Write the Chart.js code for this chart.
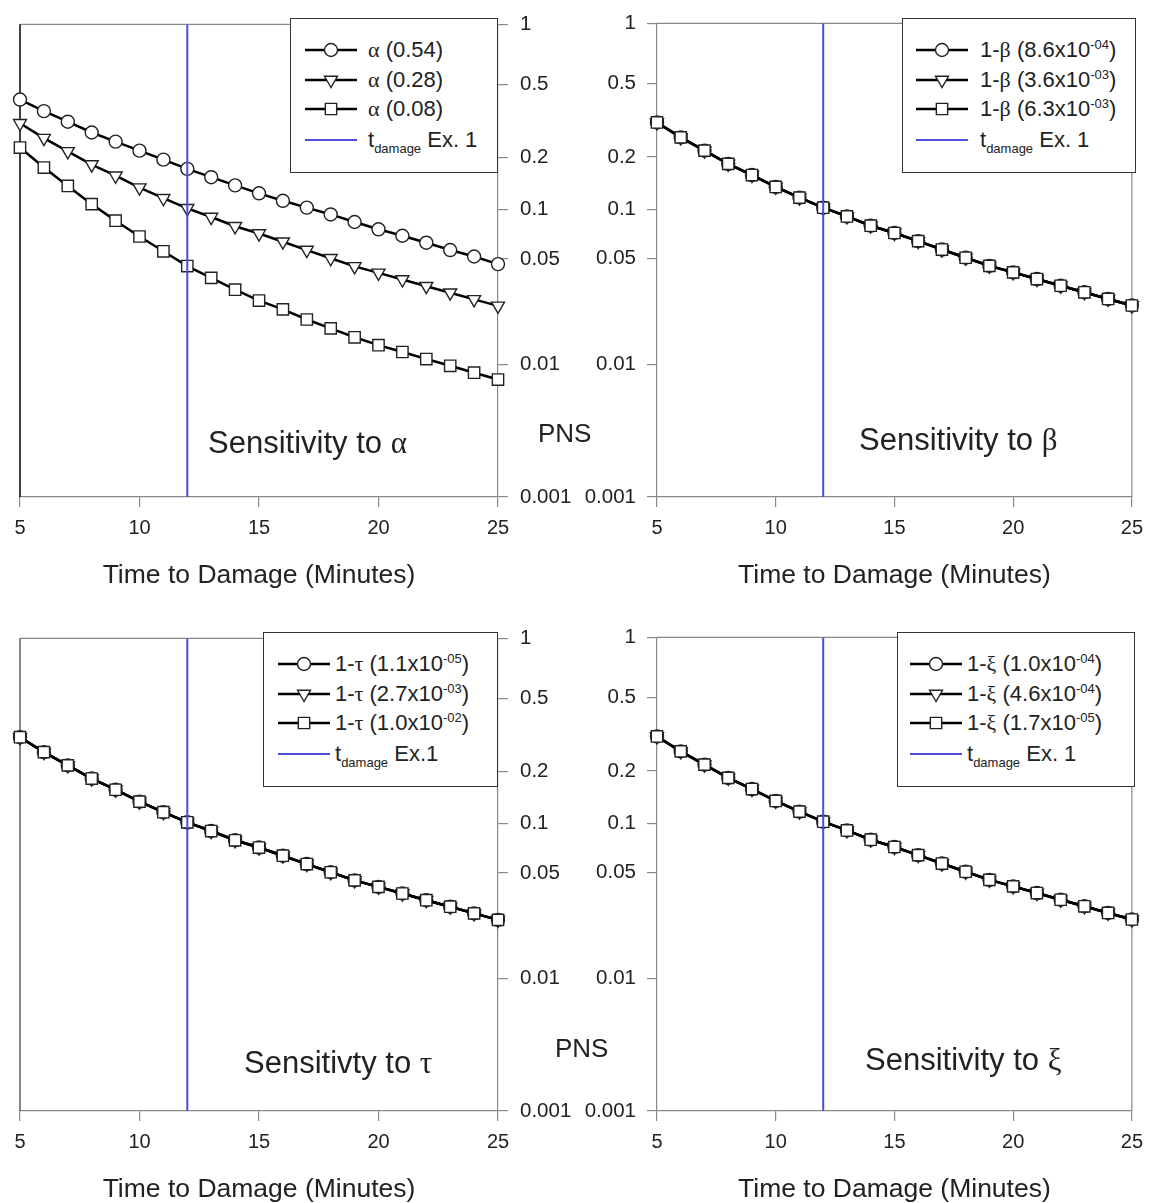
<!DOCTYPE html>
<html>
<head>
<meta charset="utf-8">
<script src="https://cdn.jsdelivr.net/npm/chart.js@4.4.1/dist/chart.umd.min.js"></script>
<style>
  body { margin: 0; width: 1152px; height: 1203px; overflow: hidden; background: #fff; position: relative;
         font-family: "Liberation Sans", Arial, sans-serif; color: #222; }
  .panel { position: absolute; width: 576px; height: 600px; }
  .legend { position: absolute; height: 155px; box-sizing: border-box; border: 1.5px solid #333; background: #fff; }
  .sample { position: absolute; }
  .ltext { position: absolute; font-size: 22px; line-height: 24px; white-space: nowrap; }
  .ltext sup { font-size: 13px; vertical-align: 8px; line-height: 0; }
  .ltext sub { font-size: 13px; vertical-align: -6px; line-height: 0; }
  .g { font-family: "Liberation Serif", "DejaVu Serif", serif; }
  .note { position: absolute; font-size: 31px; line-height: 34px; white-space: nowrap; }
  .pns { position: absolute; font-size: 26px; line-height: 30px; }
</style>
</head>
<body>
<script>
// --- data ---
const minutes = [5, 6, 7, 8, 9, 10, 11, 12, 13, 14, 15, 16, 17, 18, 19, 20, 21, 22, 23, 24, 25];
const timeTicks = [5, 10, 15, 20, 25];
const pnsTicks = [1, 0.5, 0.2, 0.1, 0.05, 0.01, 0.001];
const tDamage = 12;

const pnsAlpha054 = [0.415, 0.360, 0.316, 0.276, 0.246, 0.219, 0.195, 0.173, 0.155, 0.139, 0.125,
                     0.113, 0.103, 0.0938, 0.0845, 0.0763, 0.0697, 0.0632, 0.0569, 0.0519, 0.0465];
// nominal curve (alpha 0.28), the other panels all sit on it
const pnsNominal = [0.310, 0.257, 0.217, 0.183, 0.158, 0.135, 0.117, 0.102, 0.0905, 0.0796, 0.0719,
                    0.0641, 0.0569, 0.0506, 0.0450, 0.0409, 0.0371, 0.0336, 0.0305, 0.0276, 0.0250];
const pnsAlpha008 = [0.228, 0.176, 0.138, 0.108, 0.0860, 0.0690, 0.0559, 0.0452, 0.0380, 0.0319, 0.0271,
                     0.0237, 0.0203, 0.0177, 0.0154, 0.0136, 0.0122, 0.0109, 0.00978, 0.00874, 0.00781];

const alphaLabels = ['<span class="g">α</span> (0.54)', '<span class="g">α</span> (0.28)', '<span class="g">α</span> (0.08)'];
const betaLabels = ['1-<span class="g">β</span> (8.6x10<sup>-04</sup>)', '1-<span class="g">β</span> (3.6x10<sup>-03</sup>)', '1-<span class="g">β</span> (6.3x10<sup>-03</sup>)'];
const tauLabels = ['1-<span class="g">τ</span> (1.1x10<sup>-05</sup>)', '1-<span class="g">τ</span> (2.7x10<sup>-03</sup>)', '1-<span class="g">τ</span> (1.0x10<sup>-02</sup>)'];
const xiLabels = ['1-<span class="g">ξ</span> (1.0x10<sup>-04</sup>)', '1-<span class="g">ξ</span> (4.6x10<sup>-04</sup>)', '1-<span class="g">ξ</span> (1.7x10<sup>-05</sup>)'];

const FONT = '"Liberation Sans", Arial, sans-serif';

// PNS axis of the original is not a plain log axis, it gets squeezed towards the bottom
class PnsScale extends Chart.LogarithmicScale {
  buildTicks() {
    return pnsTicks.map(v => ({ value: v }));
  }
  pnsSpan() {
    return Math.log(1 + 0.22 * Math.log10(this.max / this.min));
  }
  getPixelForValue(v) {
    const u = Math.log10(this.max / v);
    return this.getPixelForDecimal(1 - Math.log(1 + 0.22 * u) / this.pnsSpan());
  }
  getValueForPixel(px) {
    const f = 1 - this.getDecimalForPixel(px);
    const u = (Math.exp(f * this.pnsSpan()) - 1) / 0.22;
    return this.max / Math.pow(10, u);
  }
}
PnsScale.id = 'pns';
PnsScale.defaults = {};
Chart.register(PnsScale);

// top border + one side border of the plot box
const framePlugin = {
  id: 'frame',
  beforeDatasetsDraw(chart, args, opts) {
    const { ctx, chartArea: a } = chart;
    ctx.save();
    ctx.strokeStyle = '#888';
    ctx.lineWidth = 1.2;
    ctx.beginPath();
    ctx.moveTo(a.left, a.top);
    ctx.lineTo(a.right, a.top);
    ctx.stroke();
    const x = opts.side === 'left' ? a.left : a.right;
    ctx.strokeStyle = opts.color;
    ctx.lineWidth = opts.width;
    ctx.beginPath();
    ctx.moveTo(x, a.top);
    ctx.lineTo(x, a.bottom);
    ctx.stroke();
    ctx.restore();
  }
};

const markers = [
  { style: 'circle', radius: 6.5, rotation: 0 },
  { style: 'triangle', radius: 7.5, rotation: 180 },
  { style: 'rect', radius: 8, rotation: 0 }
];

const panels = [
  { left: 0, top: 0, axis: 'right', frame: { side: 'left', color: '#111', width: 1.6 },
    series: [pnsAlpha054, pnsNominal, pnsAlpha008], labels: alphaLabels,
    tLabel: 't<sub>damage</sub> Ex. 1',
    legend: { left: 290, width: 208, sample: 14, text: 77 },
    note: { html: 'Sensitivity to <span class="g">α</span>', left: 208, cy: 443 },
    pns: { left: 538, cy: 433 } },
  { left: 576, top: 0, axis: 'left', frame: { side: 'right', color: '#888', width: 1.2 },
    series: [pnsNominal, pnsNominal, pnsNominal], labels: betaLabels,
    tLabel: 't<sub>damage</sub> Ex. 1',
    legend: { left: 902, width: 234, sample: 13, text: 77 },
    note: { html: 'Sensitivity to <span class="g">β</span>', left: 859, cy: 440 } },
  { left: 0, top: 614, axis: 'right', frame: { side: 'left', color: '#555', width: 1.4 },
    series: [pnsNominal, pnsNominal, pnsNominal], labels: tauLabels,
    tLabel: 't<sub>damage</sub> Ex.1',
    legend: { left: 263, width: 235, sample: 14, text: 71 },
    note: { html: 'Sensitivty to <span class="g">τ</span>', left: 244, cy: 449 },
    pns: { left: 555, cy: 434 } },
  { left: 576, top: 614, axis: 'left', frame: { side: 'right', color: '#888', width: 1.2 },
    series: [pnsNominal, pnsNominal, pnsNominal], labels: xiLabels,
    tLabel: 't<sub>damage</sub> Ex. 1',
    legend: { left: 897, width: 238, sample: 12, text: 69 },
    note: { html: 'Sensitivity to <span class="g">ξ</span>', left: 865, cy: 446 } }
];

const rowCenters = [31, 61, 90, 121];

function stripTags(s) {
  return s.replace(/<[^>]+>/g, '');
}

function buildChart(cfg) {
  const holder = document.createElement('div');
  holder.className = 'panel';
  holder.style.left = cfg.left + 'px';
  holder.style.top = cfg.top + 'px';
  const canvas = document.createElement('canvas');
  canvas.width = 576;
  canvas.height = 600;
  holder.appendChild(canvas);
  document.body.appendChild(holder);

  const datasets = cfg.series.map((vals, i) => ({
    label: stripTags(cfg.labels[i]),
    data: minutes.map((m, j) => ({ x: m, y: vals[j] })),
    borderColor: '#000',
    borderWidth: 2.5,
    pointStyle: markers[i].style,
    pointRadius: markers[i].radius,
    pointRotation: markers[i].rotation,
    pointBackgroundColor: '#fff',
    pointBorderColor: '#222',
    pointBorderWidth: 1.4,
    clip: false,
    order: 3 - i
  }));
  datasets.push({
    label: stripTags(cfg.tLabel),
    data: [{ x: tDamage, y: 1 }, { x: tDamage, y: 0.001 }],
    borderColor: '#4d4ddb',
    borderWidth: 2,
    pointRadius: 0,
    order: 0
  });

  const right = cfg.axis === 'right';
  const chart = new Chart(canvas, {
    type: 'line',
    data: { datasets: datasets },
    options: {
      responsive: false,
      devicePixelRatio: 1,
      animation: false,
      events: [],
      layout: { padding: right ? { left: 20, top: 18, right: 0, bottom: 0 } : { left: 0, top: 18, right: 17, bottom: 0 } },
      plugins: {
        legend: { display: false },
        tooltip: { enabled: false },
        frame: cfg.frame
      },
      scales: {
        x: {
          type: 'linear',
          min: 5,
          max: 25,
          afterBuildTicks: s => { s.ticks = timeTicks.map(v => ({ value: v })); },
          afterFit: s => { s.height = 103; },
          ticks: { font: { family: FONT, size: 20 }, color: '#222', padding: 9, maxRotation: 0 },
          grid: { drawOnChartArea: false, tickLength: 10, color: '#888', lineWidth: 1.2 },
          border: { color: '#888', width: 1.2 },
          title: { display: true, text: 'Time to Damage (Minutes)', color: '#222',
                   font: { family: FONT, size: 26.5 }, padding: { top: 0, bottom: 8 } }
        },
        y: {
          type: 'pns',
          position: cfg.axis,
          min: 0.001,
          max: 1,
          afterFit: s => { s.width = right ? 78 : 81; },
          ticks: { callback: v => String(v), font: { family: FONT, size: 20.5 }, color: '#222', padding: right ? 12 : 11 },
          grid: { drawOnChartArea: false, tickLength: 10, color: '#888', lineWidth: 1.2 },
          border: { color: '#888', width: 1.2 }
        }
      }
    },
    plugins: [framePlugin]
  });
  return chart;
}

function buildLegend(cfg, chart) {
  const box = document.createElement('div');
  box.className = 'legend';
  box.style.left = cfg.legend.left + 'px';
  box.style.top = (cfg.top + 18) + 'px';
  box.style.width = cfg.legend.width + 'px';
  const rows = cfg.labels.concat([cfg.tLabel]);
  rows.forEach((html, i) => {
    const ds = chart.data.datasets[i];
    const c = document.createElement('canvas');
    c.width = 52;
    c.height = 22;
    c.className = 'sample';
    c.style.left = cfg.legend.sample + 'px';
    c.style.top = (rowCenters[i] - 11) + 'px';
    const ctx = c.getContext('2d');
    ctx.strokeStyle = ds.borderColor;
    ctx.lineWidth = ds.borderWidth;
    ctx.beginPath();
    ctx.moveTo(0, 11);
    ctx.lineTo(52, 11);
    ctx.stroke();
    if (ds.pointRadius) {
      ctx.fillStyle = ds.pointBackgroundColor;
      ctx.strokeStyle = ds.pointBorderColor;
      ctx.lineWidth = ds.pointBorderWidth;
      Chart.helpers.drawPoint(ctx, { pointStyle: ds.pointStyle, radius: ds.pointRadius,
        rotation: ds.pointRotation, borderWidth: ds.pointBorderWidth }, 26, 11);
    }
    box.appendChild(c);
    const t = document.createElement('div');
    t.className = 'ltext';
    t.style.left = cfg.legend.text + 'px';
    t.style.top = (rowCenters[i] - 12) + 'px';
    t.innerHTML = html;
    box.appendChild(t);
  });
  document.body.appendChild(box);
}

function addText(cls, html, left, cy, lh) {
  const d = document.createElement('div');
  d.className = cls;
  d.style.left = left + 'px';
  d.style.top = (cy - lh / 2) + 'px';
  d.innerHTML = html;
  document.body.appendChild(d);
}

panels.forEach(cfg => {
  const chart = buildChart(cfg);
  buildLegend(cfg, chart);
  addText('note', cfg.note.html, cfg.note.left, cfg.top + cfg.note.cy, 34);
  if (cfg.pns) addText('pns', 'PNS', cfg.pns.left, cfg.top + cfg.pns.cy, 30);
});
</script>
</body>
</html>
